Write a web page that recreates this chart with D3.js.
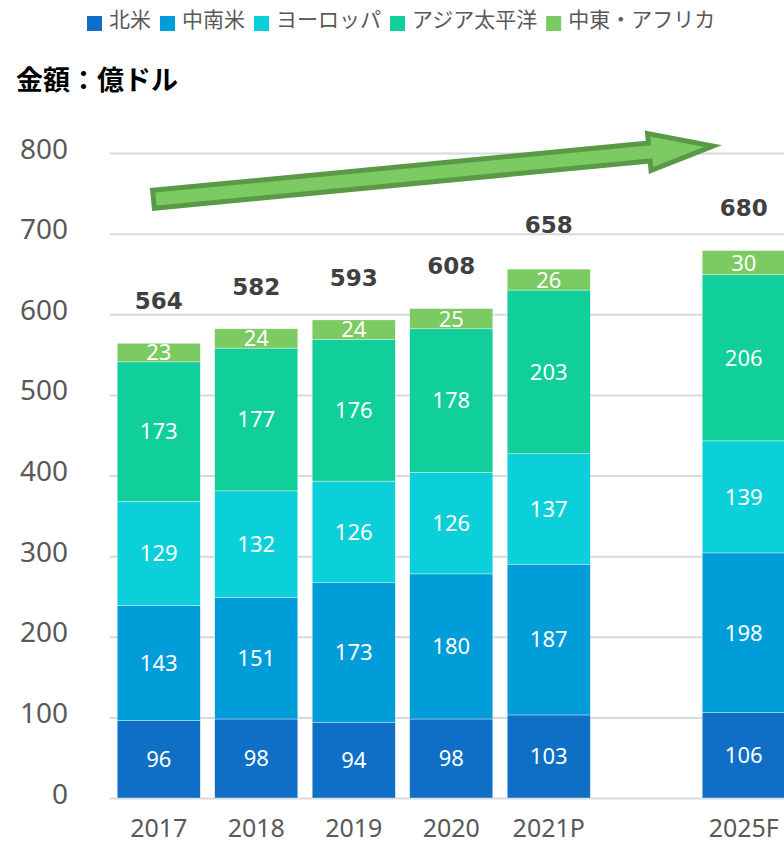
<!DOCTYPE html>
<html lang="ja">
<head>
<meta charset="utf-8">
<title>地域別市場規模</title>
<script src="https://cdn.jsdelivr.net/npm/d3@7"></script>
<style>
  html, body { margin: 0; padding: 0; background: #ffffff; }
  svg { display: block; }
</style>
</head>
<body>
<svg id="chart" width="784" height="844"></svg>
<script>
// Market size by region (億ドル), actuals 2017–2020, projection 2021P, forecast 2025F
const years = ["2017", "2018", "2019", "2020", "2021P", "2025F"];
const northAmerica     = [96, 98, 94, 98, 103, 106];
const latinAmerica     = [143, 151, 173, 180, 187, 198];
const europe           = [129, 132, 126, 126, 137, 139];
const asiaPacific      = [173, 177, 176, 178, 203, 206];
const middleEastAfrica = [23, 24, 24, 25, 26, 30];
const totals           = [564, 582, 593, 608, 658, 680];

const regionNames  = ["北米", "中南米", "ヨーロッパ", "アジア太平洋", "中東・アフリカ"];
const regionKeys   = ["na", "la", "eu", "ap", "mea"];
const regionColors = ["#0F6FC6", "#009DD9", "#0BD0D9", "#10CF9B", "#7CCA62"];
const yTicks = [0, 100, 200, 300, 400, 500, 600, 700, 800];
const unitTitle = "金額：億ドル";

// Category slots on the x axis (an empty slot separates the forecast year)
const slots = ["2017", "2018", "2019", "2020", "2021P", "spacer", "2025F"];

const rows = years.map((yr, i) => ({
  year: yr,
  na: northAmerica[i],
  la: latinAmerica[i],
  eu: europe[i],
  ap: asiaPacific[i],
  mea: middleEastAfrica[i],
  total: totals[i]
}));

const W = 784, H = 844;
const svg = d3.select("#chart");

const x = d3.scaleBand()
  .domain(slots)
  .range([110, 792.5])
  .paddingInner(0.148)
  .paddingOuter(0.074);

const y = d3.scaleLinear()
  .domain([0, 800])
  .range([798, 153]);

const color = d3.scaleOrdinal().domain(regionKeys).range(regionColors);

// Gridlines and y tick labels
const yAxis = d3.axisLeft(y)
  .tickValues(yTicks)
  .tickSize(-(W - 110))
  .tickPadding(42)
  .tickFormat(d3.format("d"));

const gy = svg.append("g")
  .attr("transform", "translate(110,0)")
  .call(yAxis);
gy.select(".domain").remove();
gy.selectAll(".tick line")
  .attr("stroke", "#D9D9D9")
  .attr("stroke-width", 2);
gy.selectAll(".tick text")
  .attr("fill", "#595959")
  .attr("font-family", "'Noto Sans', 'Open Sans', sans-serif")
  .attr("font-size", 28)
  .attr("dy", "0.18em");

// X category labels
const xAxis = d3.axisBottom(x)
  .tickSize(0)
  .tickFormat(d => (d === "spacer" ? "" : d));
const gx = svg.append("g")
  .attr("transform", `translate(0,${y(0)})`)
  .call(xAxis);
gx.select(".domain").remove();
gx.selectAll(".tick text")
  .attr("fill", "#595959")
  .attr("font-family", "'Noto Sans', 'Open Sans', sans-serif")
  .attr("font-size", 25)
  .attr("y", 39)
  .attr("dy", 0);

// Stacked bars
const stacked = d3.stack().keys(regionKeys)(rows);

const layers = svg.append("g").selectAll("g.layer")
  .data(stacked)
  .join("g")
  .attr("class", "layer")
  .attr("fill", s => color(s.key));

layers.selectAll("rect")
  .data(s => s.map(d => ({ seg: d, key: s.key })))
  .join("rect")
  .attr("x", d => x(d.seg.data.year))
  .attr("width", x.bandwidth())
  .attr("y", d => y(d.seg[1]))
  .attr("height", d => y(d.seg[0]) - y(d.seg[1]))
  .attr("stroke", "#ffffff")
  .attr("stroke-opacity", 0.6)
  .attr("stroke-width", 0.6);

// Segment value labels
layers.selectAll("text")
  .data(s => s.map(d => ({ seg: d, key: s.key })))
  .join("text")
  .attr("x", d => x(d.seg.data.year) + x.bandwidth() / 2)
  .attr("y", d => (y(d.seg[0]) + y(d.seg[1])) / 2)
  .attr("dy", "0.36em")
  .attr("text-anchor", "middle")
  .attr("fill", "#ffffff")
  .attr("font-family", "'Noto Sans', 'Open Sans', sans-serif")
  .attr("font-size", 22)
  .text(d => d.seg[1] - d.seg[0]);

// Totals above each bar
svg.append("g").selectAll("text")
  .data(rows)
  .join("text")
  .attr("x", d => x(d.year) + x.bandwidth() / 2)
  .attr("y", d => y(d.total) - 34)
  .attr("text-anchor", "middle")
  .attr("fill", "#404040")
  .attr("font-family", "'DejaVu Sans', Verdana, sans-serif")
  .attr("font-weight", "bold")
  .attr("font-size", 23)
  .text(d => d.total);

// Growth arrow rising from 2017 toward the 2025 forecast
const tail = [x("2017") + x.bandwidth() * 0.437, y(742.6)];
const tip  = [x("2025F") + x.bandwidth() * 0.13, y(808.7)];
const len = Math.hypot(tip[0] - tail[0], tip[1] - tail[1]);
const ang = Math.atan2(tip[1] - tail[1], tip[0] - tail[0]) * 180 / Math.PI;
const shaftHalf = 9, headHalf = 18.5, headLen = 64;
const arrowShape = [
  [0, -shaftHalf], [len - headLen, -shaftHalf], [len - headLen, -headHalf],
  [len, 0],
  [len - headLen, headHalf], [len - headLen, shaftHalf], [0, shaftHalf]
];
svg.append("path")
  .attr("transform", `translate(${tail[0]},${tail[1]}) rotate(${ang})`)
  .attr("d", d3.line()(arrowShape) + "Z")
  .attr("fill", "#7CCA62")
  .attr("stroke", "#5A9A46")
  .attr("stroke-width", 5)
  .attr("stroke-linejoin", "miter")
  .attr("stroke-miterlimit", 10);

// Unit title
svg.append("text")
  .attr("x", 16)
  .attr("y", 90)
  .attr("fill", "#000000")
  .attr("font-family", "'Noto Sans CJK JP', sans-serif")
  .attr("font-weight", "bold")
  .attr("font-size", 27)
  .text(unitTitle);

// Legend
const legend = svg.append("g").attr("class", "legend");
let lx = 87;
regionNames.forEach((name, i) => {
  legend.append("rect")
    .attr("x", lx).attr("y", 16)
    .attr("width", 15).attr("height", 15)
    .attr("fill", regionColors[i]);
  const t = legend.append("text")
    .attr("x", lx + 22).attr("y", 27)
    .attr("fill", "#595959")
    .attr("font-family", "'Noto Sans CJK JP', sans-serif")
    .attr("font-size", 21)
    .text(name);
  lx += 22 + t.node().getComputedTextLength() + 9;
});
</script>
</body>
</html>
